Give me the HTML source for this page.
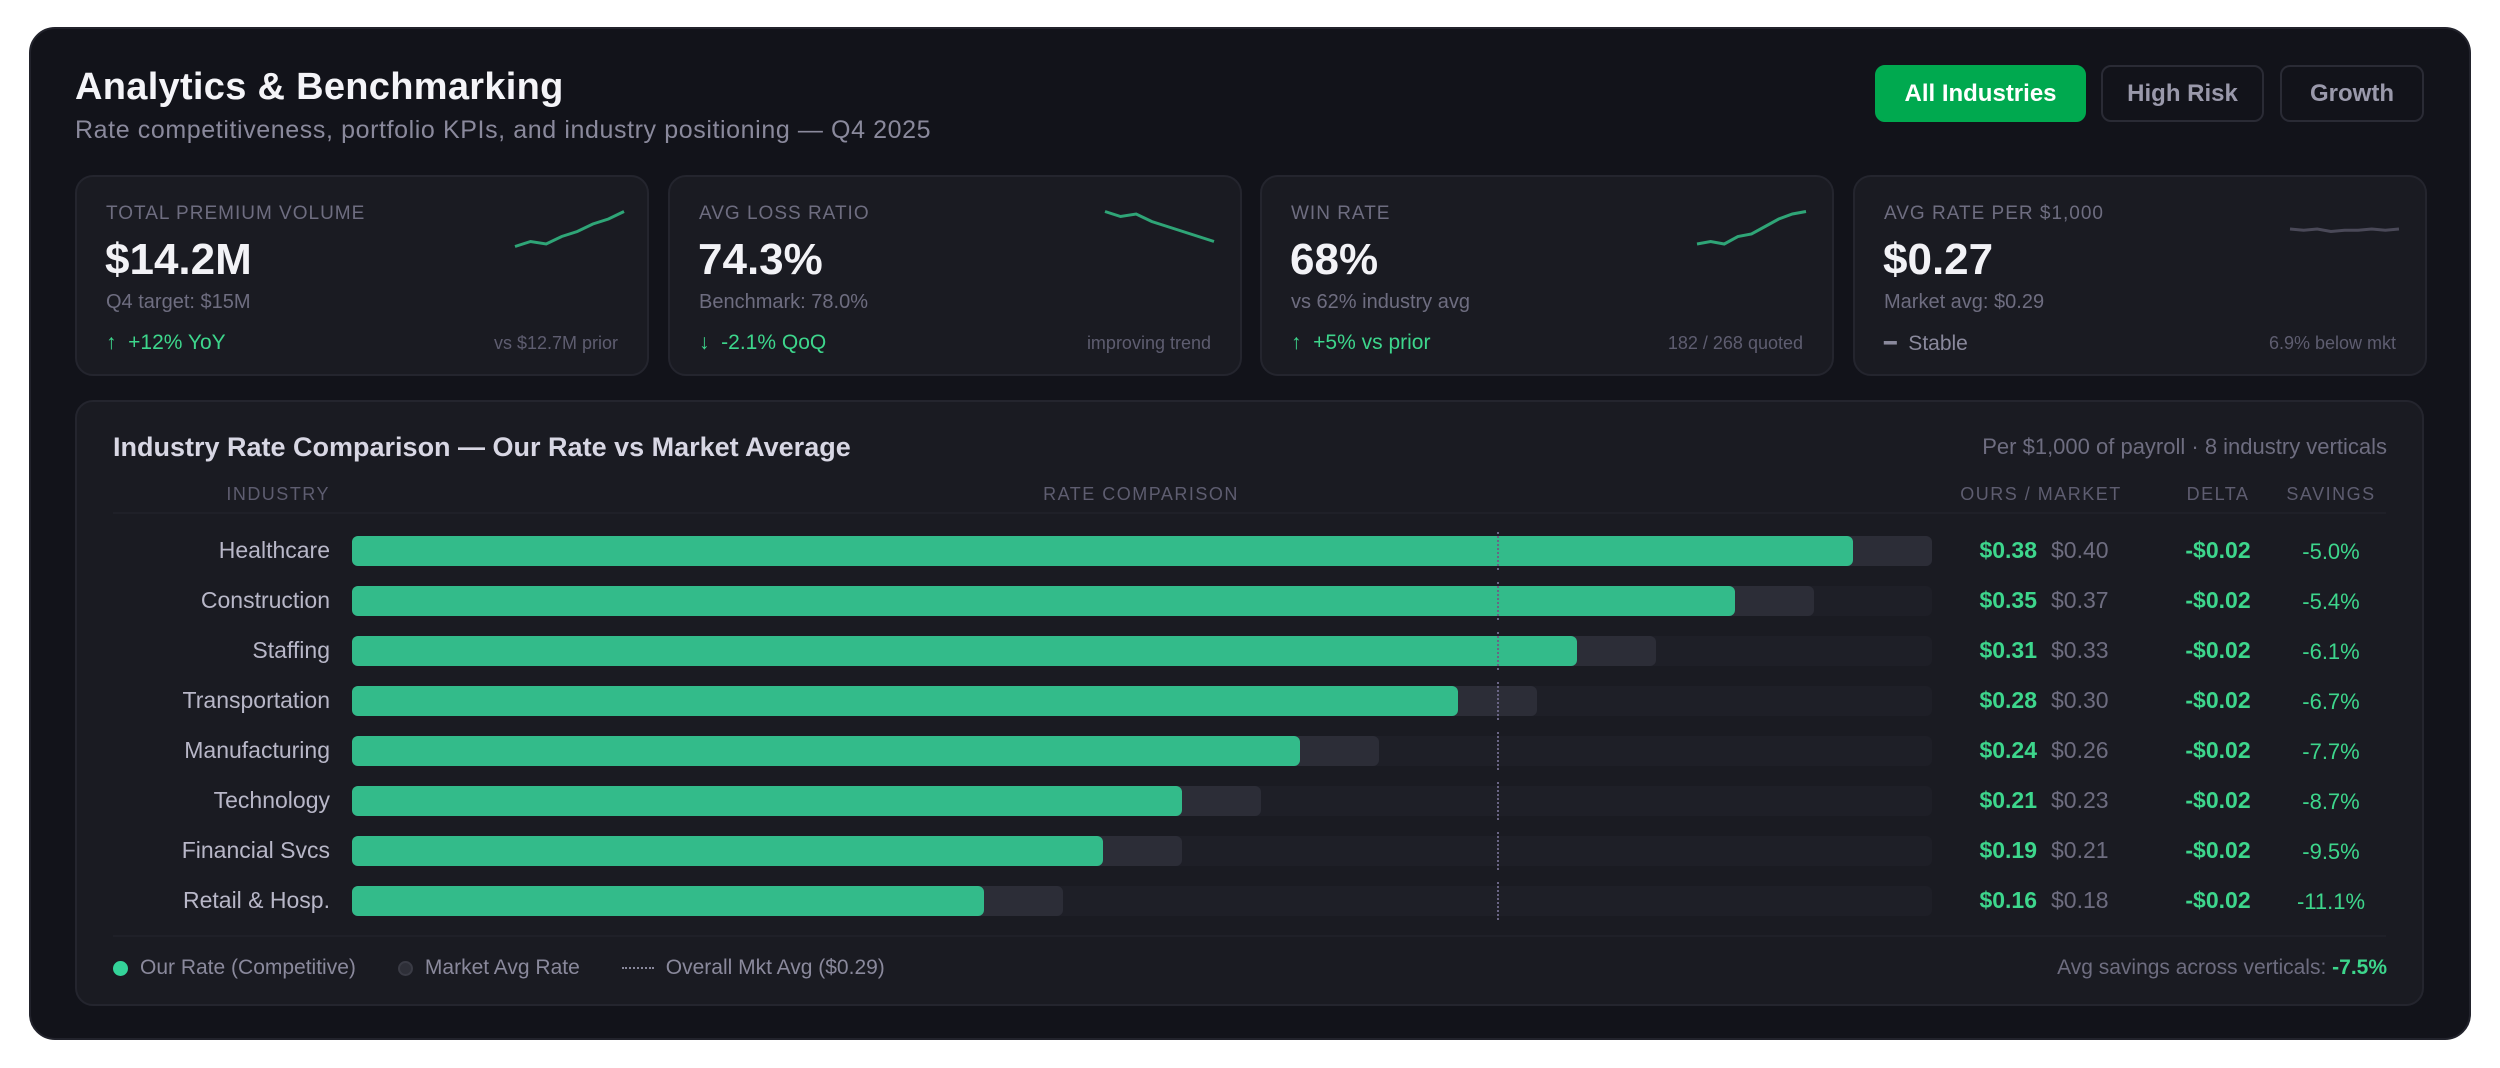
<!DOCTYPE html>
<html><head><meta charset="utf-8">
<style>
*{margin:0;padding:0;box-sizing:border-box}
body{width:2500px;height:1068px;background:#fff;font-family:"Liberation Sans",sans-serif;position:relative;overflow:hidden}
.abs{position:absolute}
#card{left:29px;top:27px;width:2442px;height:1013px;background:#12131a;border-radius:26px;border:2px solid #22232c}
.kpi{position:absolute;top:175px;width:574px;height:201px;background:#1a1b22;border:2px solid #24252e;border-radius:18px}
.kl{position:absolute;left:29px;top:26px;font-size:19px;color:#6e6d80;letter-spacing:1px}
.kv{position:absolute;left:28px;top:58px;font-size:44px;font-weight:bold;color:#f2f2f6}
.ks{position:absolute;left:29px;top:114px;font-size:20px;color:#6e6d80}
.kb{position:absolute;left:29px;top:154px;font-size:21px;color:#3dd68c}
.kr{position:absolute;right:29px;top:156px;font-size:18px;color:#5e5d70}
.btn{position:absolute;top:65px;height:57px;border-radius:10px;font-size:24px;font-weight:bold;display:flex;align-items:center;justify-content:center;border:2px solid #2a2b35;color:#9a99ab}
.hdr{position:absolute;top:484px;font-size:18px;color:#5e5d70;letter-spacing:1.5px}
</style></head><body>
<div id="card" class="abs"></div>
<div class="abs" style="left:75px;top:66px;font-size:38px;font-weight:bold;color:#f4f4f8;letter-spacing:0.3px">Analytics &amp; Benchmarking</div>
<div class="abs" style="left:75px;top:116px;font-size:25px;color:#8a899c;letter-spacing:0.6px">Rate competitiveness, portfolio KPIs, and industry positioning — Q4 2025</div>
<div class="btn" style="left:1875px;width:211px;background:#00a94f;border-color:#00a94f;color:#fff">All Industries</div>
<div class="btn" style="left:2101px;width:163px">High Risk</div>
<div class="btn" style="left:2280px;width:144px">Growth</div>

<div class="kpi" style="left:75px">
<div class="kl">TOTAL PREMIUM VOLUME</div><div class="kv">$14.2M</div><div class="ks">Q4 target: $15M</div>
<div class="kb">↑ &nbsp;+12% YoY</div><div class="kr">vs $12.7M prior</div>
<svg class="abs" id="sp0" style="left:435px;top:30px" width="115" height="50"></svg></div>
<div class="kpi" style="left:668px">
<div class="kl">AVG LOSS RATIO</div><div class="kv">74.3%</div><div class="ks">Benchmark: 78.0%</div>
<div class="kb">↓ &nbsp;-2.1% QoQ</div><div class="kr">improving trend</div>
<svg class="abs" id="sp1" style="left:432px;top:30px" width="115" height="50"></svg></div>
<div class="kpi" style="left:1260px">
<div class="kl">WIN RATE</div><div class="kv">68%</div><div class="ks">vs 62% industry avg</div>
<div class="kb">↑ &nbsp;+5% vs prior</div><div class="kr">182 / 268 quoted</div>
<svg class="abs" id="sp2" style="left:432px;top:30px" width="115" height="50"></svg></div>
<div class="kpi" style="left:1853px">
<div class="kl">AVG RATE PER $1,000</div><div class="kv">$0.27</div><div class="ks">Market avg: $0.29</div>
<div class="kb" style="color:#8a899c">━ &nbsp;Stable</div><div class="kr">6.9% below mkt</div>
<svg class="abs" id="sp3" style="left:432px;top:30px" width="115" height="50"></svg></div>

<div class="abs" style="left:75px;top:400px;width:2349px;height:606px;background:#1a1b22;border:2px solid #24252e;border-radius:18px"></div>
<div class="abs" style="left:113px;top:432px;font-size:27px;font-weight:bold;color:#d8d7e4">Industry Rate Comparison — Our Rate vs Market Average</div>
<div class="abs" style="right:113px;top:434px;font-size:22px;color:#6e6d80">Per $1,000 of payroll · 8 industry verticals</div>
<div class="hdr" style="right:2170px">INDUSTRY</div>
<div class="hdr" style="left:1141px;transform:translateX(-50%)">RATE COMPARISON</div>
<div class="hdr" style="left:2041px;transform:translateX(-50%)">OURS / MARKET</div>
<div class="hdr" style="left:2218px;transform:translateX(-50%)">DELTA</div>
<div class="hdr" style="left:2331px;transform:translateX(-50%)">SAVINGS</div>
<div class="abs" style="left:113px;top:512px;width:2273px;height:2px;background:#1f2028"></div>
<div class="abs" style="left:113px;top:935px;width:2273px;height:2px;background:#1f2028"></div>
<div id="rows"></div>

<div class="abs" style="left:113px;top:956px;font-size:21px;color:#8a899c;display:flex;align-items:center">
<span style="width:15px;height:15px;border-radius:50%;background:#34d399;display:inline-block;margin-right:12px"></span><span>Our Rate (Competitive)</span>
<span style="width:15px;height:15px;border-radius:50%;background:#2e2f38;border:2px solid #3a3b45;display:inline-block;margin:0 12px 0 42px"></span><span>Market Avg Rate</span>
<span style="width:32px;border-top:2px dotted #8a899c;display:inline-block;margin:0 12px 0 42px"></span><span>Overall Mkt Avg ($0.29)</span></div>
<div class="abs" style="right:113px;top:956px;font-size:21px;color:#6e6d80">Avg savings across verticals: <b style="color:#3dd68c">-7.5%</b></div>

<script>
const industries=["Healthcare","Construction","Staffing","Transportation","Manufacturing","Technology","Financial Svcs","Retail & Hosp."];
const ourRates=[0.38,0.35,0.31,0.28,0.24,0.21,0.19,0.16];
const marketRates=[0.40,0.37,0.33,0.30,0.26,0.23,0.21,0.18];
const savings=["-5.0%","-5.4%","-6.1%","-6.7%","-7.7%","-8.7%","-9.5%","-11.1%"];
const overallAvg=0.29;
const maxRate=0.40;
const spark0=[3,5,4,7,9,12,14,17];
const spark1=[17,15,16,13,11,9,7,5];
const spark2=[4,5,4,7,8,11,14,16,17];
const spark3=[10,9.5,10,9,9.5,9.5,10,9.5,10];

const X0=352,W=1580,Y0=536,DY=50,BH=30;
const xs=v=>X0+v/maxRate*W;
const rows=document.getElementById('rows');
function mk(css,parent){const d=document.createElement('div');d.className='abs';d.style.cssText=css;(parent||rows).appendChild(d);return d;}
industries.forEach((name,i)=>{
  const y=Y0+i*DY;
  const l=mk('right:2170px;top:'+(y+1)+'px;font-size:23px;color:#b8b7c8');l.textContent=name;
  
  
  const t=mk('left:'+X0+'px;top:'+y+'px;width:'+W+'px;height:'+BH+'px;background:#1e1f27;border-radius:6px');
  
  
  const m=mk('left:'+X0+'px;top:'+y+'px;width:'+(xs(marketRates[i])-X0)+'px;height:'+BH+'px;background:#2c2d37;border-radius:6px');
  
  
  const o=mk('left:'+X0+'px;top:'+y+'px;width:'+(xs(ourRates[i])-X0)+'px;height:'+BH+'px;background:#33bb8a;border-radius:6px');
  
  
  const a=mk('left:'+(xs(overallAvg)-1)+'px;top:'+(y-4)+'px;height:'+(BH+8)+'px;border-left:2px dotted #6a6585');
  
  
  const v1=mk('right:'+(2500-2037)+'px;top:'+(y+1)+'px;font-size:23px;font-weight:bold;color:#3dd68c');v1.textContent='$'+ourRates[i].toFixed(2);
  
  
  const v2=mk('left:2051px;top:'+(y+1)+'px;font-size:23px;color:#6e6d80');v2.textContent='$'+marketRates[i].toFixed(2);
  
  
  const d=mk('left:2218px;transform:translateX(-50%);top:'+(y+1)+'px;font-size:23px;font-weight:bold;color:#3dd68c');d.textContent='-$'+(marketRates[i]-ourRates[i]).toFixed(2);
  
  
  const s=mk('left:2331px;transform:translateX(-50%);top:'+(y+3)+'px;font-size:22px;color:#3dd68c');s.textContent=savings[i];
  
  
});
function spark(id,data,color){
  const svg=document.getElementById(id);const n=data.length;
  const pts=data.map((v,i)=>(3+i*(109/(n-1)))+','+(47-v*2.5)).join(' ');
  const p=document.createElementNS('http://www.w3.org/2000/svg','polyline');
  p.setAttribute('points',pts);p.setAttribute('fill','none');p.setAttribute('stroke',color);p.setAttribute('stroke-width','3');
  
  
  svg.appendChild(p);
}
spark('sp0',spark0,'#2fa577');spark('sp1',spark1,'#2fa577');spark('sp2',spark2,'#2fa577');spark('sp3',spark3,'#4a4958');
</script>
</body></html>
